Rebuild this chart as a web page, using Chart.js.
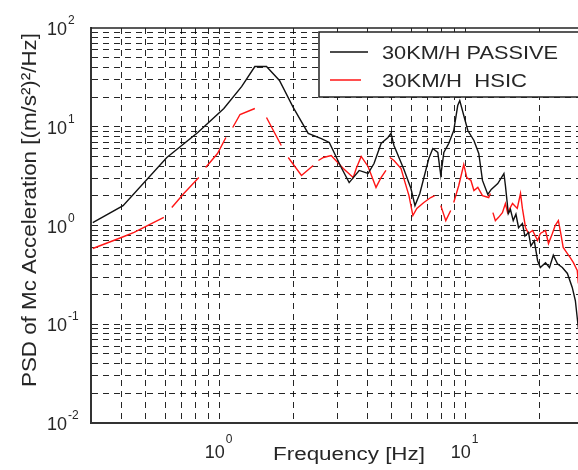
<!DOCTYPE html>
<html>
<head>
<meta charset="utf-8">
<script src="https://cdn.jsdelivr.net/npm/chart.js@4/dist/chart.umd.min.js"></script>
<style>
  html, body { margin: 0; padding: 0; background: #fff; overflow: hidden; }
  #wrap { width: 600px; height: 470px; }
</style>
</head>
<body>
<div id="wrap"><canvas id="psd" width="600" height="470"></canvas></div>
<script>
// passive suspension, 30 km/h
const passiveFreq = [0.305, 0.405, 0.61, 0.815, 1.04, 1.23, 1.39, 1.55, 1.75, 1.99, 2.29, 2.59, 2.79, 3.12, 3.36, 3.69, 4.01, 4.24, 4.53, 4.83, 4.97, 5.11, 5.61, 5.99, 6.22, 6.51, 7.08, 7.35, 7.70, 7.92, 8.15, 8.53, 8.94, 9.28, 9.46, 9.82, 10.2, 10.8, 11.3, 11.7, 12.3, 12.7, 13.5, 14.3, 14.5, 14.9, 15.2, 15.6, 16.0, 16.4, 17.0, 17.4, 18.0, 18.4, 19.0, 19.6, 20.1, 21.1, 21.9, 22.7, 23.6, 24.7, 25.9, 27.1, 27.9, 28.7];
const passivePsd = [1.07, 1.59, 4.88, 8.75, 15.3, 25.6, 40.7, 40.7, 29.4, 15.7, 8.55, 7.6, 6.93, 3.87, 2.72, 3.61, 3.36, 4.24, 6.77, 7.78, 8.55, 6.46, 3.69, 2.37, 1.59, 2.11, 4.77, 6.02, 5.49, 3.21, 5.49, 6.77, 9.16, 16.4, 18.4, 13.0, 9.16, 7.26, 5.36, 2.86, 2.06, 2.32, 2.66, 3.36, 2.54, 1.32, 1.45, 1.12, 1.3, 0.95, 1.05, 0.78, 0.85, 0.62, 0.7, 0.44, 0.376, 0.42, 0.376, 0.50, 0.41, 0.376, 0.327, 0.236, 0.174, 0.091];

// HSIC controller, 30 km/h (null = gap in the trace)
const hsicFreq = [0.305, 0.401, 0.449, 0.593, 0.61, 0.639, 0.715, 0.823, 0.85, 0.877, 0.98, 1.06, 1.09, 1.13, 1.21, 1.39, 1.47, 1.55, 1.78, 1.84, 1.90, 2.15, 2.40, 2.46, 2.52, 2.64, 2.84, 3.18, 3.49, 3.59, 3.76, 4.01, 4.32, 4.53, 4.74, 4.83, 4.92, 5.11, 5.46, 5.67, 5.88, 6.10, 6.33, 6.76, 7.21, 7.48, 7.7, 7.92, 8.30, 8.69, 8.8, 8.94, 9.37, 9.82, 10.1, 10.5, 10.8, 11.2, 11.7, 12.4, 12.6, 12.75, 12.9, 13.2, 13.6, 14.1, 14.5, 14.8, 15.5, 16.2, 16.7, 17.0, 17.5, 18.0, 18.7, 19.6, 20.1, 21.1, 21.7, 22.5, 23.1, 23.8, 24.3, 24.9, 25.9, 26.6, 27.4, 28.4, 28.7];
const hsicPsd = [0.585, 0.76, 0.85, 1.21, null, 1.52, 2.11, 3.06, null, 3.87, 5.36, 7.78, null, 9.83, 13.3, 15.3, null, 12.4, 6.46, null, 4.88, 3.21, 4.05, null, 4.55, 4.88, 5.11, 3.78, 3.06, 3.78, 5.0, 3.96, 2.43, 3.06, 3.61, null, 4.88, 4.55, 3.78, 2.72, 2.01, 1.26, 1.49, 1.71, 1.92, 2.01, null, 1.59, 1.12, 1.42, null, 1.71, 2.54, 4.15, 3.06, 2.86, 2.26, 2.43, 2.01, 1.92, 2.11, null, 1.35, 1.12, 1.21, 1.35, 1.67, 1.35, 1.67, 1.49, 2.11, 1.49, 0.955, 0.83, 0.89, 0.705, 0.83, 0.89, 0.657, 0.83, 1.0, 1.12, 0.85, 0.60, 0.52, 0.474, 0.42, 0.35, 0.259];

const seriesLabels = ['30KM/H PASSIVE', '30KM/H  HSIC'];
const xGridValues = [0.4, 0.5, 0.6, 0.7, 0.8, 0.9, 1, 2, 3, 4, 5, 6, 7, 8, 9, 10, 20, 30];
const yGridValues = [0.02, 0.03, 0.04, 0.05, 0.06, 0.07, 0.08, 0.09, 0.1, 0.2, 0.3, 0.4, 0.5, 0.6, 0.7, 0.8, 0.9, 1, 2, 3, 4, 5, 6, 7, 8, 9, 10, 20, 30, 40, 50, 60, 70, 80, 90];
const xDecades = [0, 1];
const yDecades = [2, 1, 0, -1, -2];

const textColor = '#262626';
const fontName = '"Liberation Sans", Arial, sans-serif';

// draw text squeezed/stretched to a target width
function fitText(ctx, text, x, y, width, size) {
  ctx.save();
  ctx.font = size + 'px ' + fontName;
  const w = ctx.measureText(text).width;
  ctx.translate(x, y);
  ctx.scale(width / w, 1);
  ctx.fillText(text, 0, 0);
  ctx.restore();
}

function powerLabel(ctx, exp, x, baseY, expY) {
  ctx.font = '18px ' + fontName;
  ctx.fillText('10', x, baseY);
  const w = ctx.measureText('10').width;
  ctx.font = '12px ' + fontName;
  ctx.fillText(String(exp), x + w + 1, expY);
}

const decorations = {
  id: 'decorations',
  afterDraw(chart) {
    const { ctx, chartArea, scales } = chart;
    ctx.save();
    // top frame line
    ctx.strokeStyle = '#222';
    ctx.lineWidth = 1.5;
    ctx.beginPath();
    ctx.moveTo(chartArea.left, chartArea.top);
    ctx.lineTo(chartArea.right, chartArea.top);
    ctx.stroke();

    ctx.fillStyle = textColor;
    ctx.textAlign = 'left';
    ctx.textBaseline = 'alphabetic';

    yDecades.forEach(e => {
      const y = scales.y.getPixelForValue(Math.pow(10, e));
      powerLabel(ctx, e, 47, y + 7, y - 4);
    });
    xDecades.forEach(e => {
      const x = scales.x.getPixelForValue(Math.pow(10, e));
      powerLabel(ctx, e, x - 15, 458, 443);
    });

    fitText(ctx, 'Frequency [Hz]', 273, 460, 152, 18);

    ctx.save();
    ctx.translate(36, 387);
    ctx.rotate(-Math.PI / 2);
    fitText(ctx, 'PSD of Mc Acceleration [(m/s\u00b2)\u00b2/Hz]', 0, 0, 354, 20);
    ctx.restore();

    // legend box
    ctx.fillStyle = '#fff';
    ctx.fillRect(319, 32, 280, 65);
    ctx.strokeStyle = '#222';
    ctx.lineWidth = 1.5;
    ctx.strokeRect(319, 32, 280, 65);
    const rows = [
      { y: 52, color: chart.data.datasets[0].borderColor, len: 38 },
      { y: 80, color: chart.data.datasets[1].borderColor, len: 31 }
    ];
    const widths = [176, 145];
    rows.forEach((r, i) => {
      ctx.strokeStyle = r.color;
      ctx.lineWidth = 1.5;
      ctx.beginPath();
      ctx.moveTo(330, r.y);
      ctx.lineTo(330 + r.len, r.y);
      ctx.stroke();
      ctx.fillStyle = textColor;
      fitText(ctx, seriesLabels[i], 382, r.y + 7, widths[i], 19);
    });
    ctx.restore();
  }
};

const gridStyle = { color: 'rgba(0,0,0,0.85)', lineWidth: 1, drawTicks: false };

new Chart(document.getElementById('psd'), {
  type: 'line',
  data: {
    datasets: [
      {
        label: seriesLabels[0],
        data: passiveFreq.map((f, i) => ({ x: f, y: passivePsd[i] })),
        borderColor: '#111111',
        borderWidth: 1.4,
        pointRadius: 0,
        tension: 0
      },
      {
        label: seriesLabels[1],
        data: hsicFreq.map((f, i) => ({ x: f, y: hsicPsd[i] })),
        borderColor: '#ff1515',
        borderWidth: 1.4,
        pointRadius: 0,
        tension: 0,
        spanGaps: false
      }
    ]
  },
  options: {
    responsive: false,
    animation: false,
    layout: { padding: { left: 91, top: 28, right: 10, bottom: 47 } },
    plugins: { legend: { display: false }, tooltip: { enabled: false } },
    scales: {
      x: {
        type: 'logarithmic',
        min: 0.305,
        max: 32,
        afterBuildTicks: s => { s.ticks = xGridValues.map(v => ({ value: v })); },
        ticks: { display: false },
        grid: gridStyle,
        border: { display: true, color: '#333', width: 2, dash: [6, 5] }
      },
      y: {
        type: 'logarithmic',
        min: 0.01,
        max: 100,
        afterBuildTicks: s => { s.ticks = yGridValues.map(v => ({ value: v })); },
        ticks: { display: false },
        grid: gridStyle,
        border: { display: true, color: '#333', width: 2, dash: [6, 5] }
      }
    }
  },
  plugins: [decorations]
});
</script>
</body>
</html>
